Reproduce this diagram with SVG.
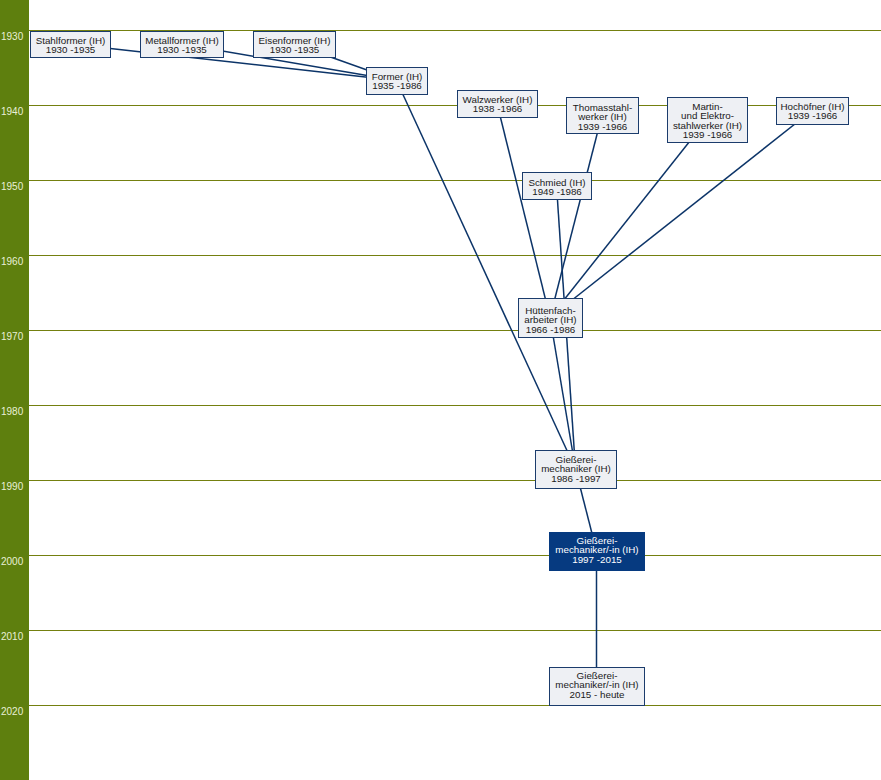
<svg xmlns="http://www.w3.org/2000/svg" width="881" height="780" viewBox="0 0 881 780">
<style>
.grid{stroke:#74800f;stroke-width:1}
.yr{font-family:"Liberation Sans",Arial,sans-serif;font-size:10px;fill:#e9f0d6}
.box{fill:#eef0f4;stroke:#1b3c6c;stroke-width:1}
.hl{fill:#063a80;stroke:#063a80;stroke-width:1}
.t{font-family:"Liberation Sans",Arial,sans-serif;font-size:9.8px;fill:#1a1a1a;text-anchor:middle}
.th{font-family:"Liberation Sans",Arial,sans-serif;font-size:9.8px;fill:#ffffff;text-anchor:middle}
.c{stroke:#0c3468;stroke-width:1.5;fill:none}
</style>
<rect x="0" y="0" width="881" height="780" fill="#ffffff"/>
<rect x="0" y="0" width="29" height="780" fill="#5e7f0e"/>
<g id="grid">
<line class="grid" x1="29" y1="30.5" x2="881" y2="30.5"/>
<line class="grid" x1="29" y1="105.5" x2="881" y2="105.5"/>
<line class="grid" x1="29" y1="180.5" x2="881" y2="180.5"/>
<line class="grid" x1="29" y1="255.5" x2="881" y2="255.5"/>
<line class="grid" x1="29" y1="330.5" x2="881" y2="330.5"/>
<line class="grid" x1="29" y1="405.5" x2="881" y2="405.5"/>
<line class="grid" x1="29" y1="480.5" x2="881" y2="480.5"/>
<line class="grid" x1="29" y1="555.5" x2="881" y2="555.5"/>
<line class="grid" x1="29" y1="630.5" x2="881" y2="630.5"/>
<line class="grid" x1="29" y1="705.5" x2="881" y2="705.5"/>
</g>
<g id="years">
<text class="yr" x="1" y="40">1930</text>
<text class="yr" x="1" y="115">1940</text>
<text class="yr" x="1" y="190">1950</text>
<text class="yr" x="1" y="265">1960</text>
<text class="yr" x="1" y="340">1970</text>
<text class="yr" x="1" y="415">1980</text>
<text class="yr" x="1" y="490">1990</text>
<text class="yr" x="1" y="565">2000</text>
<text class="yr" x="1" y="640">2010</text>
<text class="yr" x="1" y="715">2020</text>
</g>
<g id="connectors">
<line class="c" x1="70" y1="44" x2="396.5" y2="80.5"/>
<line class="c" x1="181.5" y1="44" x2="396.5" y2="80.5"/>
<line class="c" x1="294" y1="44" x2="396.5" y2="80.5"/>
<line class="c" x1="396.5" y1="80.5" x2="575.5" y2="469"/>
<line class="c" x1="497" y1="103.5" x2="550" y2="317.5"/>
<line class="c" x1="602" y1="115" x2="550" y2="317.5"/>
<line class="c" x1="707" y1="119.5" x2="550" y2="317.5"/>
<line class="c" x1="812" y1="110.5" x2="550" y2="317.5"/>
<line class="c" x1="556.5" y1="185.5" x2="575.5" y2="469"/>
<line class="c" x1="550" y1="317.5" x2="575.5" y2="469"/>
<line class="c" x1="575.5" y1="469" x2="596.5" y2="551"/>
<line class="c" x1="596.5" y1="551" x2="596.5" y2="686"/>
</g>
<g id="n-stahlformer"><rect class="box" x="30.5" y="31.5" width="80" height="26"/><text class="t" x="70.5" y="43.8">Stahlformer (IH)</text><text class="t" x="70.5" y="53.3">1930 -1935</text></g>
<g id="n-metallformer"><rect class="box" x="140.5" y="31.5" width="83" height="26"/><text class="t" x="182" y="43.8">Metallformer (IH)</text><text class="t" x="182" y="53.3">1930 -1935</text></g>
<g id="n-eisenformer"><rect class="box" x="253.5" y="31.5" width="82" height="26"/><text class="t" x="294.5" y="43.8">Eisenformer (IH)</text><text class="t" x="294.5" y="53.3">1930 -1935</text></g>
<g id="n-former"><rect class="box" x="366.5" y="67.5" width="61" height="27"/><text class="t" x="397" y="79.8">Former (IH)</text><text class="t" x="397" y="89.3">1935 -1986</text></g>
<g id="n-walzwerker"><rect class="box" x="457.5" y="90.5" width="80" height="27"/><text class="t" x="497.5" y="102.8">Walzwerker (IH)</text><text class="t" x="497.5" y="112.3">1938 -1966</text></g>
<g id="n-thomasstahlwerker"><rect class="box" x="566.5" y="97.5" width="72" height="36"/><text class="t" x="602.5" y="110.5">Thomasstahl-</text><text class="t" x="602.5" y="120">werker (IH)</text><text class="t" x="602.5" y="129.5">1939 -1966</text></g>
<g id="n-martin"><rect class="box" x="667.5" y="97.5" width="80" height="45"/><text class="t" x="707.5" y="109.8">Martin-</text><text class="t" x="707.5" y="119.3">und Elektro-</text><text class="t" x="707.5" y="128.8">stahlwerker (IH)</text><text class="t" x="707.5" y="138.3">1939 -1966</text></g>
<g id="n-hochoefner"><rect class="box" x="776.5" y="97.5" width="72" height="27"/><text class="t" x="812.5" y="109.8">Hochöfner (IH)</text><text class="t" x="812.5" y="119.3">1939 -1966</text></g>
<g id="n-schmied"><rect class="box" x="522.5" y="172.5" width="69" height="27"/><text class="t" x="557" y="185.8">Schmied (IH)</text><text class="t" x="557" y="195.3">1949 -1986</text></g>
<g id="n-huettenfacharbeiter"><rect class="box" x="518.5" y="298.5" width="64" height="39"/><text class="t" x="550.5" y="313.5">Hüttenfach-</text><text class="t" x="550.5" y="323">arbeiter (IH)</text><text class="t" x="550.5" y="332.5">1966 -1986</text></g>
<g id="n-giessereimechaniker"><rect class="box" x="535.5" y="450.5" width="81" height="38"/><text class="t" x="576" y="462.5">Gießerei-</text><text class="t" x="576" y="472">mechaniker (IH)</text><text class="t" x="576" y="481.5">1986 -1997</text></g>
<g id="n-giessereimechanikerin-1997"><rect class="hl" x="549.5" y="532.5" width="95" height="38"/><text class="th" x="597" y="543.5">Gießerei-</text><text class="th" x="597" y="553">mechaniker/-in (IH)</text><text class="th" x="597" y="562.5">1997 -2015</text></g>
<g id="n-giessereimechanikerin-2015"><rect class="box" x="549.5" y="667.5" width="95" height="38"/><text class="t" x="597" y="678.5">Gießerei-</text><text class="t" x="597" y="688">mechaniker/-in (IH)</text><text class="t" x="597" y="697.5">2015 - heute</text></g>
</svg>
